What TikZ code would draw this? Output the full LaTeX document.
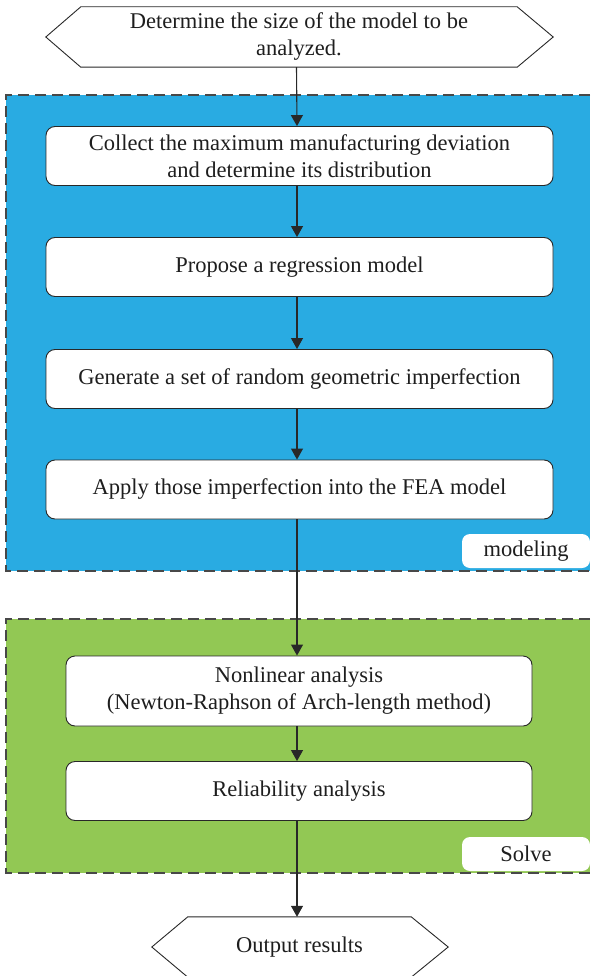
\documentclass[tikz,border=0pt]{standalone}
\usepackage{fontspec}
\setmainfont{Liberation Serif}
\usetikzlibrary{arrows.meta,calc}
\definecolor{bluebg}{RGB}{41,171,226}
\definecolor{greenbg}{RGB}{146,200,84}
\definecolor{edgecol}{RGB}{40,40,40}
\definecolor{txtcol}{RGB}{30,30,30}
\begin{document}
\begin{tikzpicture}[x=1pt,y=-1pt,
  font=\fontsize{22.5}{27}\selectfont,
  stepbox/.style={draw=edgecol, fill=white, rounded corners=9pt, line width=0.9pt,
    align=center, inner sep=0pt, text=txtcol, minimum width=507pt, minimum height=59pt},
  subbox/.style={stepbox, minimum width=466pt},
  hexnode/.style={inner sep=0pt, align=center, text=txtcol},
  hexline/.style={draw=edgecol, fill=white, line width=0.9pt, line join=miter},
  tagbox/.style={fill=white, rounded corners=8pt, inner sep=0pt, minimum width=128pt,
    minimum height=34pt, text=txtcol},
  regionborder/.style={draw=edgecol!85, line width=1.3pt, dash pattern=on 11pt off 6pt},
  arr/.style={draw=edgecol, line width=1.1pt, -{Triangle[width=12pt,length=11pt]}}
]
\useasboundingbox (0,0) rectangle (590,976);

% regions
\fill[bluebg] (6,95) rectangle (590,571);
\draw[regionborder] (590,95) -- (6,95) -- (6,571) -- (590,571);
\fill[greenbg] (6,619) rectangle (590,873);
\draw[regionborder] (590,619) -- (6,619) -- (6,873) -- (590,873);

% top hexagon
\node[hexnode, minimum width=436pt, minimum height=60pt] (start) at (299,37) {};
\draw[hexline] (start.north west) -- (start.north east) -- ([xshift=36pt]start.east)
  -- (start.south east) -- (start.south west) -- ([xshift=-35pt]start.west) -- cycle;
\node[hexnode] (starttxt) at (start.center) {Determine the size of the model to be\\analyzed.};

% modeling steps
\node[stepbox] (b1) at (299.5,156) {Collect the maximum manufacturing deviation\\and determine its distribution};
\node[stepbox] (b2) at (299.5,267) {Propose a regression model};
\node[stepbox] (b3) at (299.5,379) {Generate a set of random geometric imperfection};
\node[stepbox] (b4) at (299.5,489.5) {Apply those imperfection into the FEA model};
\node[tagbox] (modtag) at (526,551) {modeling};

% solve steps
\node[subbox, minimum height=70pt] (b5) at (299,691) {Nonlinear analysis\\(Newton-Raphson of Arch-length method)};
\node[subbox] (b6) at (299,791) {Reliability analysis};
\node[tagbox] (soltag) at (526,854) {Solve};

% bottom hexagon
\node[hexnode, minimum width=223pt, minimum height=60pt] (finish) at (299.5,947) {};
\draw[hexline] (finish.north west) -- (finish.north east) -- ([xshift=37pt]finish.east)
  -- (finish.south east) -- (finish.south west) -- ([xshift=-36pt]finish.west) -- cycle;
\node[hexnode] (finishtxt) at (finish.center) {Output results};

% connectors
\draw[arr] ([xshift=-2.5pt]start.south) -- ([xshift=-2.5pt]b1.north);
\draw[arr] ([xshift=-2.5pt]b1.south) -- ([xshift=-2.5pt]b2.north);
\draw[arr] ([xshift=-2.5pt]b2.south) -- ([xshift=-2.5pt]b3.north);
\draw[arr] ([xshift=-2.5pt]b3.south) -- ([xshift=-2.5pt]b4.north);
\draw[arr] ([xshift=-2.5pt]b4.south) -- ([xshift=-2pt]b5.north);
\draw[arr] ([xshift=-2pt]b5.south) -- ([xshift=-2pt]b6.north);
\draw[arr] ([xshift=-2pt]b6.south) -- ([xshift=-2.5pt]finish.north);
\end{tikzpicture}
\end{document}
